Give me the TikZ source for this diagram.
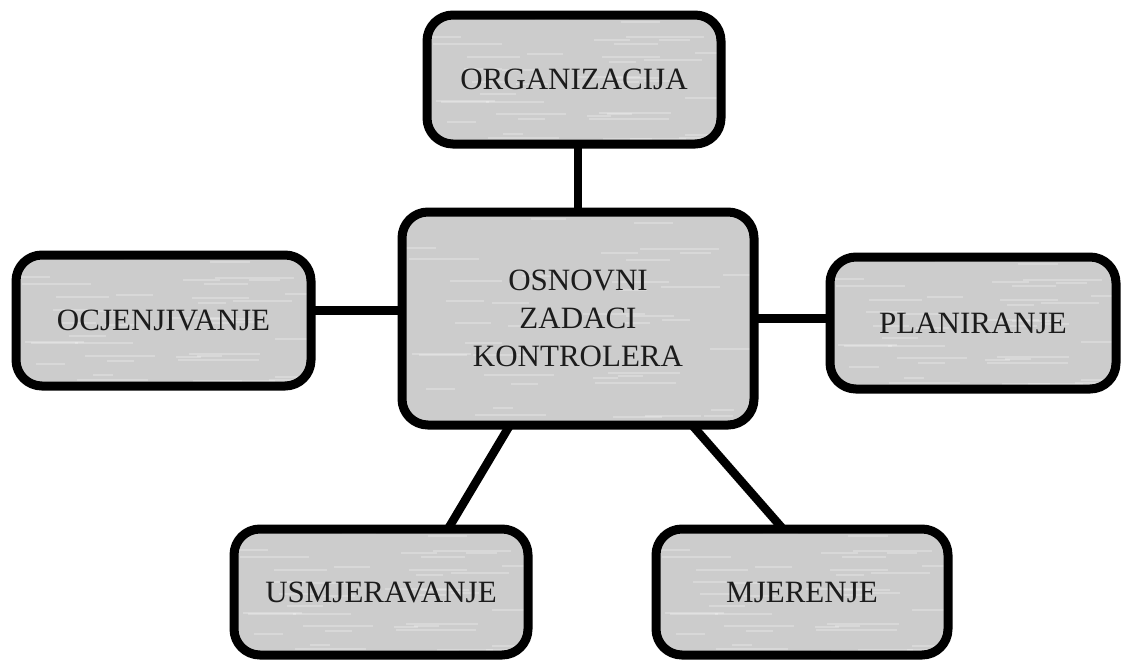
\documentclass[tikz,border=0pt]{standalone}
\usepackage{fontspec}
\setmainfont{Liberation Serif}
\usetikzlibrary{backgrounds,calc}
\definecolor{boxfill}{RGB}{204,204,204}
\definecolor{txt}{RGB}{28,28,28}
\begin{document}
\begin{tikzpicture}[x=1pt,y=-1pt,
  box/.style={draw=black, line width=9pt, fill=boxfill, rounded corners=26pt,
    outer sep=0pt, inner sep=0pt, align=center, text=txt,
    font=\fontsize{31}{38}\selectfont,
    path picture={
      \pgfmathsetseed{11}
      \foreach \k in {1,...,40}{
        \path let \p1=(path picture bounding box.south west),
                  \p2=(path picture bounding box.north east),
                  \n1={rnd}, \n2={rnd}, \n3={rnd} in
          [draw=white, draw opacity=0.25, line width=2pt, rounded corners=0pt]
          ({\x1+\n1*(\x2-\x1)}, {\y1+\n2*(\y2-\y1)}) -- ++({15+\n3*70}, 0);
      }
    }},
  link/.style={draw=black, line width=8.5pt}]
\useasboundingbox (0,0) rectangle (1126,664);

\node[box, minimum width=294pt, minimum height=129pt] (org) at (574,79.5) {ORGANIZACIJA};
\node[box, minimum width=352pt, minimum height=213pt] (c) at (578,318.5) {OSNOVNI\\ZADACI\\KONTROLERA};
\node[box, minimum width=295pt, minimum height=131pt] (o) at (163.5,320.5) {OCJENJIVANJE};
\node[box, minimum width=286pt, minimum height=132pt] (p) at (973,323) {PLANIRANJE};
\node[box, minimum width=294pt, minimum height=126pt] (u) at (381,592) {USMJERAVANJE};
\node[box, minimum width=292pt, minimum height=126pt] (m) at (802,592) {MJERENJE};

\coordinate (ol) at ([yshift=10pt]o.east);
\begin{scope}[on background layer]
  \fill[white] (0,0) rectangle (1126,664);
  \draw[link] (c.north |- org.south) -- (c.north);
  \draw[link] (ol) -- (ol -| c.west);
  \draw[link] (c.east) -- (c.east -| p.west);
  \draw[link] ([xshift=-68pt]c.south) -- ([xshift=67pt]u.north);
  \draw[link] ([xshift=114pt]c.south) -- ([xshift=-19pt]m.north);
\end{scope}
\end{tikzpicture}
\end{document}
